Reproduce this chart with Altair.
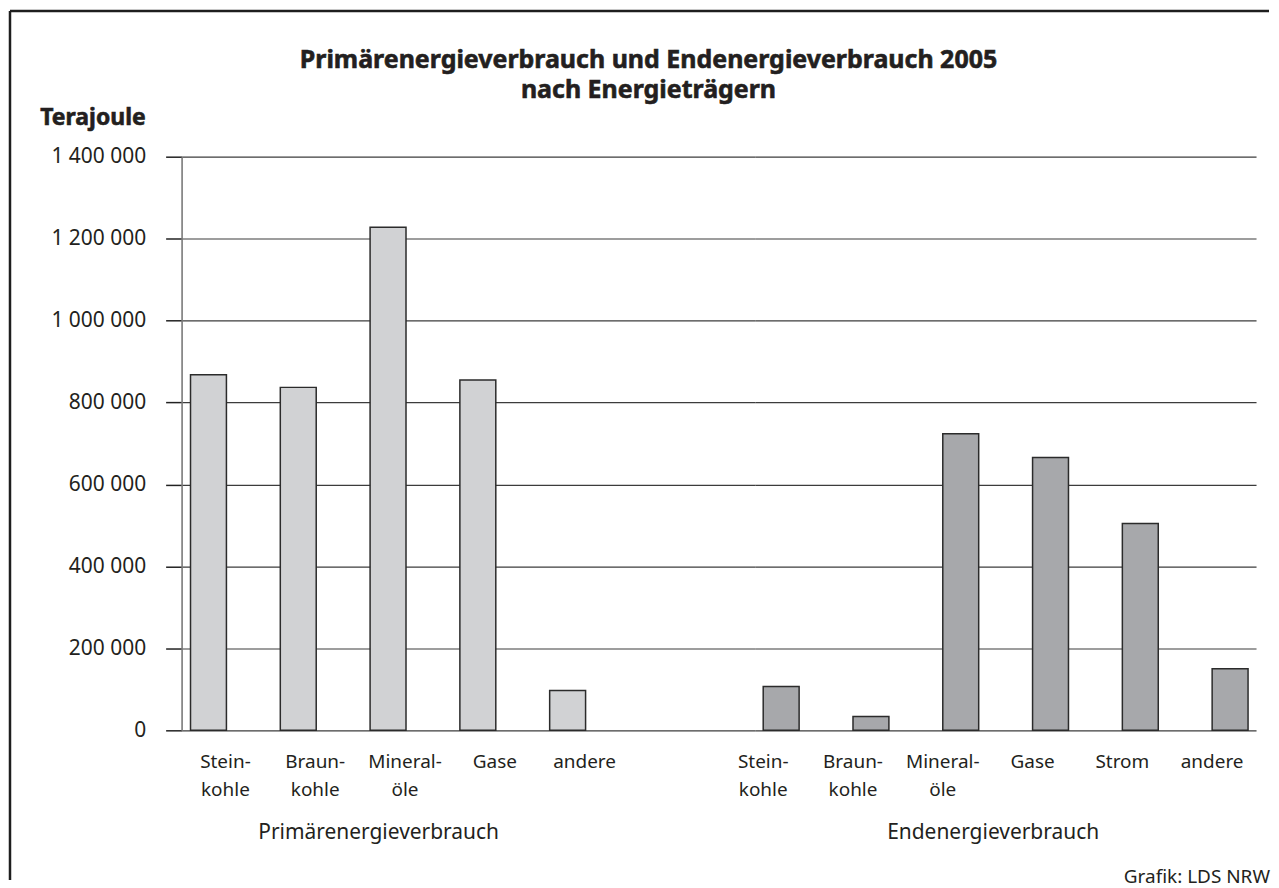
import altair as alt
import pandas as pd

FONT = "Noto Sans"
TEXT = "#231f20"

title_lines = ["Primärenergieverbrauch und Endenergieverbrauch 2005", "nach Energieträgern"]
y_title = "Terajoule"
source_note = "Grafik: LDS NRW"

prim_group = "Primärenergieverbrauch"
prim_cats = ["Stein-\nkohle", "Braun-\nkohle", "Mineral-\nöle", "Gase", "andere"]
prim_vals = [868000, 837000, 1228000, 855000, 97000]

end_group = "Endenergieverbrauch"
end_cats = ["Stein-\nkohle", "Braun-\nkohle", "Mineral-\nöle", "Gase", "Strom", "andere"]
end_vals = [107000, 34000, 724000, 666000, 505000, 150000]

y_ticks = [0, 200000, 400000, 600000, 800000, 1000000, 1200000, 1400000]

prim_df = pd.DataFrame({"cat": prim_cats, "val": prim_vals})
end_df = pd.DataFrame({"cat": end_cats, "val": end_vals})
one = alt.Data(values=[{"k": 0}])

yscale = alt.Scale(domain=[0, 1400000], nice=False, zero=True)
num_expr = "replace(replace(format(datum.value, ','), ',', ' '), ',', ' ')"
cat_expr = "split(datum.label, '\\n')"

GRID = "#3c3c3c"

bars1 = alt.Chart(prim_df).mark_bar(
    color="#d1d2d4", stroke="#2b2b2b", strokeWidth=1.5
).encode(
    x=alt.X(
        "cat:N", sort=prim_cats,
        scale=alt.Scale(paddingInner=0.6, paddingOuter=0.9944, align=0.05),
        axis=alt.Axis(
            title=prim_group, labelExpr=cat_expr, labelAngle=0, labelOffset=17,
            labelPadding=22, labelBaseline="top", labelLineHeight=28,
            labelFontSize=19, labelColor=TEXT, domain=False, ticks=False,
            titleX=197, titleY=108, titleBaseline="alphabetic", titleAlign="center",
            titleFontSize=21, titleFontWeight="normal", titleColor=TEXT,
        ),
    ),
    y=alt.Y(
        "val:Q", scale=yscale,
        axis=alt.Axis(
            values=y_ticks, labelExpr=num_expr, labelFontSize=21, labelColor=TEXT,
            labelPadding=20, tickSize=16, tickColor="#222222", tickWidth=1.5,
            domainColor="#7a7a7a", domainWidth=1.6,
            grid=True, gridColor=GRID, gridWidth=1.2, title=None,
        ),
    ),
)

frame_top = alt.Chart(one).mark_rule(color="#1e1e1e", strokeWidth=2.5).encode(
    x=alt.value(-172), x2=alt.value(1090), y=alt.value(-146)
)
frame_left = alt.Chart(one).mark_rule(color="#1e1e1e", strokeWidth=2.5).encode(
    x=alt.value(-172), y=alt.value(-146), y2=alt.value(725)
)
title_mark = alt.Chart(one).mark_text(
    text=title_lines, font=FONT, fontSize=25, fontWeight="bold", color=TEXT,
    stroke=TEXT, strokeWidth=0.6,
    align="center", baseline="alphabetic", lineHeight=30,
).encode(x=alt.value(468), y=alt.value(-89))
ytitle_mark = alt.Chart(one).mark_text(
    text=y_title, font=FONT, fontSize=23, fontWeight="bold", color=TEXT,
    stroke=TEXT, strokeWidth=0.6,
    align="right", baseline="alphabetic",
).encode(x=alt.value(-36), y=alt.value(-32))

panel1 = alt.layer(bars1, frame_top, frame_left, title_mark, ytitle_mark).properties(
    width=575, height=575
)

bars2 = alt.Chart(end_df).mark_bar(
    color="#a7a8ab", stroke="#2b2b2b", strokeWidth=1.5
).encode(
    x=alt.X(
        "cat:N", sort=end_cats,
        scale=alt.Scale(paddingInner=0.6, paddingOuter=0.0889, align=0.5),
        axis=alt.Axis(
            title=end_group, labelExpr=cat_expr, labelAngle=0, labelOffset=-18,
            labelPadding=22, labelBaseline="top", labelLineHeight=28,
            labelFontSize=19, labelColor=TEXT, domain=False, ticks=False,
            titleX=238, titleY=108, titleBaseline="alphabetic", titleAlign="center",
            titleFontSize=21, titleFontWeight="normal", titleColor=TEXT,
        ),
    ),
    y=alt.Y(
        "val:Q", scale=yscale,
        axis=alt.Axis(
            values=y_ticks, labels=False, ticks=False, domain=False, title=None,
            grid=True, gridColor=GRID, gridWidth=1.2,
        ),
    ),
)

note_mark = alt.Chart(one).mark_text(
    text=source_note, font=FONT, fontSize=19, color=TEXT,
    align="right", baseline="alphabetic",
).encode(x=alt.value(516), y=alt.value(728))

panel2 = alt.layer(bars2, note_mark).properties(width=502, height=575)

chart = alt.hconcat(panel1, panel2, spacing=0, bounds="flush").resolve_scale(
    x="independent", y="independent"
).properties(padding=0).configure(font=FONT).configure_view(stroke=None).configure_axis(
    labelFont=FONT, titleFont=FONT
)

chart.save("out.html", embed_options={"renderer": "svg", "actions": False})
